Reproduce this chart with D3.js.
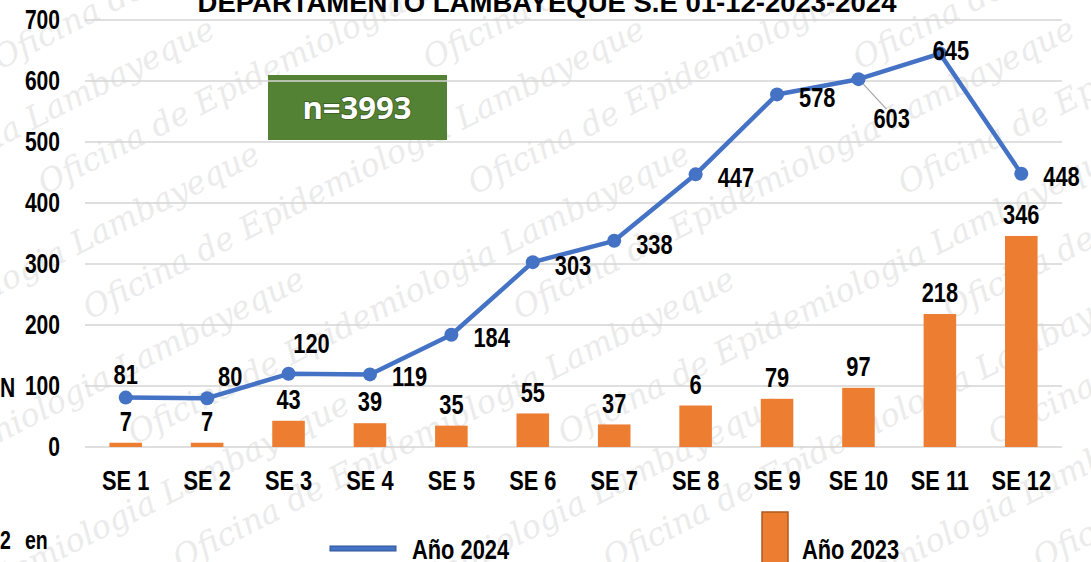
<!DOCTYPE html>
<html>
<head>
<meta charset="utf-8">
<script src="https://cdn.jsdelivr.net/npm/d3@7"></script>
<style>
  body { margin: 0; background: #fff; }
  svg { display: block; }
</style>
</head>
<body>
<div id="chart"></div>
<script>
//Data
var semanas = ["SE 1", "SE 2", "SE 3", "SE 4", "SE 5", "SE 6", "SE 7", "SE 8", "SE 9", "SE 10", "SE 11", "SE 12"];
var casos2024 = [81, 80, 120, 119, 184, 303, 338, 447, 578, 603, 645, 448];
var casos2023 = [7, 7, 43, 39, 35, 55, 37, 68, 79, 97, 218, 346];
var etiquetas2023 = ["7", "7", "43", "39", "35", "55", "37", "6", "79", "97", "218", "346"];
var yTicks = [0, 100, 200, 300, 400, 500, 600, 700];
var titulo = "DEPARTAMENTO LAMBAYEQUE S.E 01-12-2023-2024";
var totalTexto = "n=3993";

//label offsets for the 2024 line (dx, dy, anchor)
var off2024 = [[0, -24, "middle"], [23, -22, "middle"], [23, -31, "middle"], [22, 2, "start"], [22, 2, "start"],
               [22, 3, "start"], [22, 3, "start"], [22, 3, "start"], [22, 2, "start"], [15, 39, "start"],
               [11, -4, "middle"], [22, 2, "start"]];

var W = 1091, H = 562;
var margin = {top: 20, right: 29, bottom: 115, left: 85};
var width = W - margin.left - margin.right;
var height = H - margin.top - margin.bottom;

var font = "'Liberation Sans', Arial, sans-serif";
var squeeze = 0.78;

var svg = d3.select("#chart").append("svg")
  .attr("width", W).attr("height", H);

// watermark
var wm = svg.append("g").attr("fill", "#ebebeb").style("font-family", "'DejaVu Serif', serif")
  .style("font-style", "italic").style("font-size", "32px");
for (var r = -3; r < 6; r++) {
  for (var c = -1; c < 4; c++) {
    wm.append("text")
      .attr("transform", "translate(" + (c * 430 + r * 45) + "," + (r * 125 + 70) + ") rotate(-27)")
      .text("Oficina de Epidemiologia Lambayeque");
  }
}

//condensed bold label (the chart uses a narrow font)
function label(sel, px, py, txt, size, anchor) {
  sel.append("g").attr("transform", "translate(" + px + "," + py + ") scale(" + squeeze + ",1)")
    .append("text")
    .attr("text-anchor", anchor || "middle")
    .attr("dy", "0.36em")
    .style("font-family", font).style("font-weight", "bold").style("font-size", size + "px")
    .text(txt);
}

var g = svg.append("g").attr("transform", "translate(" + margin.left + "," + margin.top + ")");

var x = d3.scaleBand().domain(semanas).range([0, width]).paddingInner(0.6).paddingOuter(0.3);
var y = d3.scaleLinear().domain([0, 700]).range([height, 0]);

// green box
g.append("rect")
  .attr("x", 268 - margin.left).attr("y", 75 - margin.top)
  .attr("width", 179).attr("height", 65)
  .attr("fill", "#548235");

// grid
g.append("g").selectAll("line").data(yTicks).enter().append("line")
  .attr("x1", 0).attr("x2", width)
  .attr("y1", function(d){ return y(d); }).attr("y2", function(d){ return y(d); })
  .attr("stroke", "#d4d4d4").attr("stroke-width", 1.5);

// total text
g.append("text")
  .attr("x", 357 - margin.left).attr("y", 108 - margin.top)
  .attr("dy", "0.36em")
  .attr("text-anchor", "middle")
  .attr("fill", "#fff")
  .style("font-family", "'Open Sans', Lato, sans-serif")
  .style("font-weight", "bold").style("font-size", "31px")
  .style("paint-order", "stroke")
  .attr("stroke", "rgba(0,0,0,0.25)").attr("stroke-width", 2)
  .text(totalTexto);

// y axis
var yAxis = g.append("g").call(d3.axisLeft(y).tickValues(yTicks).tickSize(0).tickPadding(25));
yAxis.select(".domain").remove();
yAxis.selectAll("text")
  .attr("transform", "scale(" + squeeze + ",1)")
  .attr("x", -25 / squeeze)
  .style("font-family", font).style("font-weight", "bold").style("font-size", "27px").attr("fill", "#000");

// x axis
var xAxis = g.append("g").attr("transform", "translate(0," + height + ")")
  .call(d3.axisBottom(x).tickSize(0).tickPadding(23));
xAxis.select(".domain").remove();
xAxis.selectAll("text")
  .attr("transform", "scale(" + squeeze + ",1)")
  .style("font-family", font).style("font-weight", "bold").style("font-size", "28px").attr("fill", "#000");

// bars 2023
g.append("g").selectAll("rect").data(casos2023).enter().append("rect")
  .attr("x", function(d, i){ return x(semanas[i]); })
  .attr("y", function(d){ return y(d); })
  .attr("width", x.bandwidth())
  .attr("height", function(d){ return height - y(d); })
  .attr("fill", "#ED7D31");

var barLabels = g.append("g");
casos2023.forEach(function(d, i){
  label(barLabels, x(semanas[i]) + x.bandwidth() / 2, y(d) - 22, etiquetas2023[i], 28);
});

// line 2024
var cx = function(i){ return x(semanas[i]) + x.bandwidth() / 2; };
var line = d3.line().x(function(d, i){ return cx(i); }).y(function(d){ return y(d); });

// leader line for 603
g.append("line")
  .attr("x1", cx(9) + 4).attr("y1", y(603) + 4)
  .attr("x2", cx(9) + 28).attr("y2", y(603) + 30)
  .attr("stroke", "#a6a6a6").attr("stroke-width", 1.2);

g.append("path").datum(casos2024)
  .attr("d", line)
  .attr("fill", "none")
  .attr("stroke", "#4472C4").attr("stroke-width", 4.5)
  .attr("stroke-linejoin", "round");

g.append("g").selectAll("circle").data(casos2024).enter().append("circle")
  .attr("cx", function(d, i){ return cx(i); })
  .attr("cy", function(d){ return y(d); })
  .attr("r", 7)
  .attr("fill", "#4472C4");

var lineLabels = g.append("g");
casos2024.forEach(function(d, i){
  var o = off2024[i];
  label(lineLabels, cx(i) + o[0], y(d) + o[1], d, 28, o[2]);
});

// title
svg.append("text")
  .attr("x", 547).attr("y", 12)
  .attr("text-anchor", "middle")
  .style("font-family", font).style("font-weight", "bold").style("font-size", "27.5px")
  .text(titulo);

// side texts
label(svg, 0, 387, "N", 27, "start");
label(svg, 0, 540, "2", 25, "start");
label(svg, 25, 540, "en", 25, "start");

// legend
svg.append("rect").attr("x", 330).attr("y", 546).attr("width", 66).attr("height", 5)
  .attr("fill", "#4472C4").attr("stroke", "#2F5597").attr("stroke-width", 1);
label(svg, 412, 549, "Año 2024", 28, "start");
svg.append("rect").attr("x", 762).attr("y", 512).attr("width", 26).attr("height", 60)
  .attr("fill", "#ED7D31").attr("stroke", "#AE5A21").attr("stroke-width", 1.5);
label(svg, 802, 549, "Año 2023", 28, "start");
</script>
</body>
</html>
